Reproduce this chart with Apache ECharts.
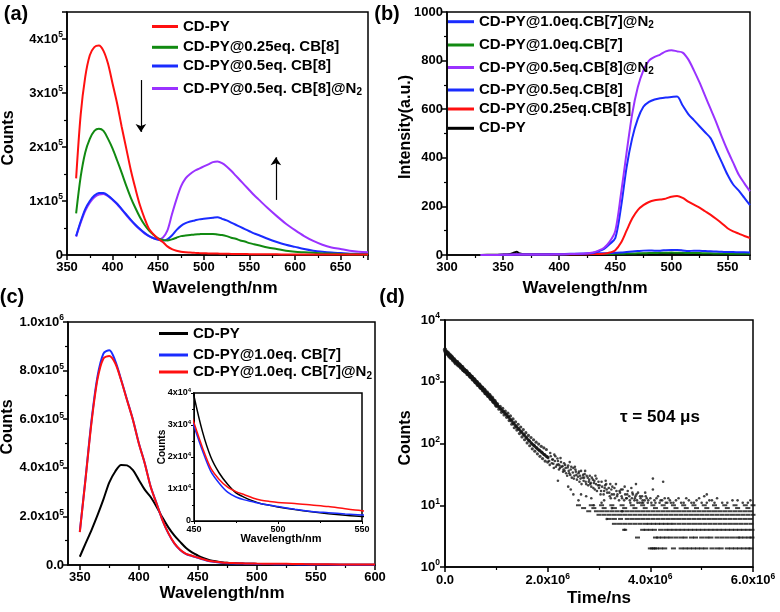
<!DOCTYPE html>
<html><head><meta charset="utf-8">
<script src="https://cdn.jsdelivr.net/npm/echarts@6/dist/echarts.min.js"></script>
<style>html,body{margin:0;padding:0;background:#fff}#c{width:780px;height:612px}</style>
</head><body><div id="c"></div>
<script>
// ---------- Panel (a) ----------
const wlA = [360,365,370,375,380,385,390,395,400,405,410,415,420,425,430,435,440,445,450,455,460,465,470,475,480,485,490,495,500,505,510,515,520,525,530,535,540,545,550,555,560,570,580,590,600,610,620,630,640,650,660,670,680];
const redA = [142e3,260e3,330e3,370e3,385e3,388e3,378e3,354e3,317e3,280e3,237e3,197e3,157e3,123e3,92e3,68e3,48e3,38e3,30e3,24e3,16e3,11e3,8e3,6e3,5e3,4.5e3,4e3,3.6e3,3.3e3,3e3,2.8e3,2.6e3,2.4e3,2.2e3,2e3,1.9e3,1.8e3,1.7e3,1.6e3,1.5e3,1.4e3,1.3e3,1.2e3,1.1e3,1e3,1e3,900,900,800,800,700,700,700];
const greenA = [77e3,145e3,190e3,215e3,230e3,234e3,230e3,215e3,197e3,175e3,152e3,128e3,106e3,87e3,70e3,56e3,45e3,37e3,31e3,28e3,27e3,29e3,32e3,35e3,36e3,37e3,38e3,38.5e3,39e3,39e3,39e3,38e3,37e3,35e3,32e3,30e3,27e3,25e3,22e3,20e3,18e3,14e3,11e3,8e3,6e3,5e3,4e3,3e3,2.5e3,2e3,1.5e3,1.2e3,1e3];
const blueA = [35e3,62e3,85e3,100e3,110e3,115e3,115e3,110e3,103e3,95e3,85e3,75e3,65e3,56e3,48e3,41e3,35e3,31e3,28e3,27e3,29e3,36e3,46e3,54e3,59e3,62e3,64e3,66e3,67e3,68e3,69e3,70e3,67e3,64e3,60e3,56e3,52e3,48e3,44e3,40e3,37e3,30e3,24e3,19e3,15e3,11e3,8e3,6e3,4.5e3,3.5e3,2.5e3,2e3,1.5e3];
const purpleA = [34e3,60e3,82e3,97e3,107e3,112e3,113e3,109e3,102e3,94e3,84e3,74e3,64e3,55e3,47e3,40e3,35e3,31e3,29e3,32e3,45e3,75e3,103e3,127e3,142e3,150e3,156e3,160e3,164e3,168e3,172e3,173e3,170e3,164e3,156e3,147e3,138e3,129e3,120e3,111e3,103e3,87e3,72e3,58e3,46e3,35e3,26e3,19e3,14e3,11e3,8e3,6e3,5e3];

// ---------- Panel (b) ----------
const wlB = [330,340,350,355,360,362,365,370,380,390,400,410,420,430,435,440,445,450,455,460,465,470,475,480,485,490,495,500,505,510,515,520,525,530,535,540,545,550,555,560,565,570];
const blackB = [0,1,2,3,10,13,6,2,2,1,2,3,2,3,2,2,3,3,3,3,4,4,5,5,6,6,7,8,6,7,6,5,5,4,4,4,3,3,3,3,3,3];
const greenB = [0,0,1,1,2,2,2,2,2,2,3,4,4,4,4,4,4,5,5,6,6,7,7,8,8,9,9,10,9,9,8,8,8,7,7,6,6,6,5,5,5,5];
const blueN2B = [0,0,1,1,2,2,2,2,2,3,3,5,5,6,7,7,8,9,10,12,14,16,18,19,18,18,20,21,21,19,16,18,17,16,15,14,13,12,12,11,11,10];
const purpleB = [0,0,1,1,2,2,2,2,2,2,3,4,5,10,18,30,55,100,250,420,580,690,760,800,815,825,838,843,838,833,805,760,710,655,600,545,485,430,380,330,295,262];
const blueB = [0,0,1,1,2,2,2,2,2,2,3,4,5,8,15,25,45,70,195,360,480,560,610,630,640,645,648,650,652,615,580,555,530,505,480,430,380,330,290,265,235,205];
const redB = [0,0,1,1,2,2,2,2,2,2,3,3,3,4,4,5,10,20,50,100,150,185,205,218,225,228,232,240,243,235,220,207,195,180,165,148,130,110,97,88,78,70];

// ---------- Panel (c) + inset ----------
const wlC = [350,355,360,365,370,375,380,385,390,395,400,405,410,415,420,425,430,435,440,445,450,455,460,465,470,475,480,485,490,495,500,510,520,530,540,550,560,580,600];
const blackC = [34e3,90e3,145e3,205e3,270e3,340e3,385e3,412e3,410e3,390e3,350e3,310e3,280e3,240e3,195e3,155e3,122e3,95e3,70e3,52e3,39e3,28e3,20e3,15e3,11.5e3,8.8e3,7.4e3,6.3e3,5.4e3,4.9e3,4.4e3,3.6e3,2.9e3,2.3e3,1.8e3,1.4e3,1.2e3,900,700];
const blueC = [137e3,364e3,598e3,776e3,870e3,884e3,840e3,762e3,680e3,598e3,501e3,419e3,323e3,254e3,185e3,130e3,89e3,62e3,45e3,37e3,29.6e3,22e3,15.5e3,11.8e3,9e3,7.5e3,6.6e3,6e3,5.4e3,4.9e3,4.5e3,3.7e3,3e3,2.6e3,2.2e3,1.9e3,1.6e3,1.2e3,1e3];
const redC = [135e3,360e3,590e3,765e3,850e3,860e3,830e3,760e3,678e3,597e3,500e3,418e3,322e3,253e3,185e3,131e3,90e3,63e3,46e3,38e3,30.6e3,23e3,16.5e3,13e3,10.6e3,9.2e3,8.2e3,7.2e3,6.5e3,6.1e3,5.8e3,5.5e3,5e3,4.5e3,3.8e3,3.2e3,2.8e3,2.2e3,1.8e3];

// ---------- Panel (d) : decay (time in ns, counts) ----------
const decayHead = [[0,3300],[12500,3050],[25000,3000],[37500,2900],[50000,2950],[62500,2780],[75000,2750],[87500,2580],[100000,2650],[112500,2480],[125000,2550],[137500,2420],[150000,2350],[162500,2230],[175000,2300],[187500,2180],[200000,2100],[212500,2000],[225000,2080],[237500,2050],[250000,1950],[262500,1850],[275000,1900],[287500,1850],[300000,1780],[312500,1700],[325000,1730],[337500,1700],[350000,1600],[362500,1550],[375000,1570],[387500,1500],[400000,1460],[412500,1480],[425000,1430],[437500,1350],[450000,1330],[462500,1340],[475000,1300],[487500,1240],[500000,1210],[512500,1200],[525000,1180],[537500,1120],[550000,1090],[562500,1100],[575000,1070],[587500,1010],[600000,980],[612500,990],[625000,960],[637500,900],[650000,890],[662500,900],[675000,870],[687500,820],[700000,800],[712500,810],[725000,790],[737500,740],[750000,720],[762500,740],[775000,710],[787500,660],[800000,650],[812500,670],[825000,640],[837500,600],[850000,590],[862500,610],[875000,575],[887500,540],[900000,525],[912500,550],[925000,515],[937500,490],[950000,470],[962500,490],[975000,460],[987500,440],[1000000,420]];
const decayMid = [[1000000,400],[1025000,440],[1025000,410],[1037500,400],[1050000,360],[1050000,390],[1075000,400],[1075000,370],[1087500,365],[1100000,320],[1100000,350],[1125000,370],[1125000,335],[1137500,330],[1150000,290],[1150000,320],[1175000,335],[1175000,305],[1187500,300],[1200000,265],[1200000,290],[1225000,310],[1225000,275],[1237500,270],[1250000,235],[1250000,260],[1275000,280],[1275000,245],[1287500,240],[1300000,205],[1300000,230],[1325000,250],[1325000,217],[1337500,212],[1350000,180],[1350000,205],[1375000,225],[1375000,195],[1387500,190],[1400000,165],[1400000,185],[1425000,205],[1425000,176],[1437500,172],[1450000,145],[1450000,167],[1475000,185],[1475000,158],[1487500,155],[1500000,128],[1500000,150],[1525000,168],[1525000,142],[1537500,138],[1550000,115],[1550000,135],[1575000,150],[1575000,127],[1587500,125],[1600000,102],[1600000,120],[1625000,135],[1625000,114],[1637500,112],[1650000,92],[1650000,109],[1675000,125],[1675000,103],[1687500,100],[1700000,82],[1700000,98],[1725000,115],[1725000,94],[1737500,93],[1750000,75],[1750000,90],[1775000,105],[1775000,86],[1787500,85],[1800000,68],[1800000,82],[1825000,98],[1825000,79],[1837500,78],[1850000,62],[1850000,76],[1875000,90],[1875000,73],[1887500,72],[1900000,57],[1900000,70],[1925000,85],[1925000,67],[1937500,66],[1950000,52],[1950000,65],[1975000,80],[1975000,62],[1987500,61],[2000000,50],[2000000,60]];
const decayTail = [[2030000,52],[2050000,70],[2080000,48],[2100000,55],[2120000,40],[2130000,66],[2150000,62],[2180000,45],[2200000,52],[2200000,25],[2220000,38],[2230000,44],[2250000,58],[2270000,42],[2300000,35],[2320000,48],[2330000,36],[2350000,40],[2380000,30],[2400000,44],[2400000,20],[2420000,33],[2430000,50],[2450000,38],[2470000,28],[2500000,40],[2500000,15],[2520000,30],[2530000,42],[2550000,35],[2570000,26],[2600000,33],[2600000,12],[2620000,24],[2630000,30],[2650000,36],[2680000,28],[2700000,25],[2720000,32],[2730000,36],[2750000,22],[2750000,14],[2780000,28],[2800000,24],[2820000,30],[2830000,22],[2850000,20],[2880000,26],[2900000,23],[2900000,10],[2920000,18],[2930000,30],[2950000,27],[2980000,21],[3000000,19],[3030000,15],[3050000,24],[3100000,17],[3100000,12],[3120000,21],[3130000,25],[3150000,18],[3200000,16],[3220000,22],[3230000,13],[3250000,15],[3300000,19],[3330000,22],[3350000,14],[3400000,17],[3430000,18],[3450000,13],[3500000,20],[3500000,4],[3530000,13],[3550000,15],[3600000,12],[3630000,19],[3650000,16],[3700000,13],[3720000,22],[3730000,15],[3750000,11],[3800000,14],[3830000,11],[3850000,12],[3900000,16],[3930000,13],[3950000,11],[4000000,13],[4050000,18],[4050000,27],[4100000,11],[4150000,14],[4200000,12],[4250000,24],[4300000,11],[4350000,13],[4400000,11],[4500000,12],[4600000,11],[4700000,13],[4800000,11],[4900000,12],[5050000,14],[5100000,11],[5200000,12],[5400000,11],[5600000,12],[5800000,11],[5950000,12]];
const decayTail2 = [[2010000,58],[2040000,45],[2060000,62],[2090000,55],[2110000,47],[2140000,52],[2160000,42],[2190000,57],[2210000,46],[2240000,40],[2260000,50],[2290000,43],[2310000,38],[2340000,45],[2360000,33],[2390000,41],[2410000,36],[2440000,31],[2460000,42],[2490000,34],[2510000,27],[2540000,38],[2560000,31],[2590000,29],[2610000,35],[2640000,27],[2660000,22],[2690000,31],[2710000,28],[2740000,24],[2760000,30],[2790000,21],[2810000,26],[2840000,23],[2860000,28],[2890000,19],[2910000,25],[2940000,22],[2960000,17],[2990000,24],[3010000,21],[3040000,17],[3060000,20],[3090000,15],[3110000,19],[3140000,22],[3160000,16],[3190000,19],[3210000,14],[3240000,18],[3260000,20],[3290000,15],[3310000,13],[3340000,17],[3360000,15],[3390000,12],[3410000,16],[3440000,14],[3460000,18],[3490000,12],[3510000,15],[3540000,13],[3560000,17],[3590000,14],[3610000,11],[3640000,13],[3660000,15],[3690000,12],[3710000,14],[3740000,12],[3760000,16],[3790000,11],[3810000,13],[3840000,14],[3860000,11],[3890000,12],[3910000,14],[3960000,12],[4020000,11],[4080000,12],[4120000,13],[4180000,11],[4230000,12],[4280000,13],[4330000,11],[4380000,12],[4450000,11],[4550000,13],[4650000,11],[4750000,12],[4850000,11],[4950000,13],[5000000,11],[5150000,12],[5250000,11],[5300000,13],[5500000,11],[5700000,12],[5900000,11],[5100000,15],[2450000,18],[2650000,15],[2850000,13],[3050000,11],[3250000,9],[3450000,8],[3150000,6]];
const decayFloor = [
  [10, [2.6e6,2.85e6,3.05e6,3.25e6,3.45e6,3.65e6,3.85e6,4.05e6,4.25e6,4.45e6,4.65e6,4.85e6,5.05e6,5.25e6,5.45e6,5.65e6,5.85e6,6.0e6]],
  [9,  [2.7e6,2.9e6,3.1e6,3.3e6,3.5e6,3.7e6,3.9e6,4.1e6,4.3e6,4.5e6,4.7e6,4.9e6,5.1e6,5.3e6,5.5e6,5.7e6,5.9e6]],
  [8,  [2.8e6,2.95e6,3.05e6,3.15e6,3.25e6,3.35e6,3.45e6,3.55e6,3.65e6,3.75e6,3.85e6,3.95e6,4.05e6,4.15e6,4.25e6,4.35e6,4.45e6,4.55e6,4.65e6,4.75e6,4.85e6,4.95e6,5.05e6,5.15e6,5.25e6,5.35e6,5.45e6,5.55e6,5.65e6,5.75e6,5.85e6,5.95e6]],
  [7,  [3.0e6,3.1e6,3.2e6,3.3e6,3.4e6,3.5e6,3.6e6,3.7e6,3.8e6,3.9e6,4.0e6,4.1e6,4.2e6,4.3e6,4.4e6,4.5e6,4.6e6,4.7e6,4.8e6,4.9e6,5.0e6,5.1e6,5.2e6,5.3e6,5.4e6,5.5e6,5.6e6,5.7e6,5.8e6,5.9e6,6.0e6]],
  [6,  [3.2e6,3.3e6,3.42e6,3.55e6,3.65e6,3.75e6,3.85e6,3.95e6,4.05e6,4.15e6,4.25e6,4.35e6,4.45e6,4.55e6,4.65e6,4.75e6,4.85e6,4.95e6,5.05e6,5.15e6,5.25e6,5.35e6,5.45e6,5.55e6,5.65e6,5.75e6,5.85e6,5.95e6]],
  [5,  [3.3e6,3.4e6,3.5e6,3.6e6,3.7e6,3.8e6,3.9e6,3.98e6,4.06e6,4.14e6,4.22e6,4.3e6,4.38e6,4.46e6,4.56e6,4.66e6,4.76e6,4.86e6,4.96e6,5.06e6,5.16e6,5.26e6,5.36e6,5.46e6,5.56e6,5.66e6,5.76e6,5.86e6,5.96e6]],
  [4,  [3.5e6,3.85e6,3.92e6,4.0e6,4.08e6,4.2e6,4.3e6,4.38e6,4.46e6,4.54e6,4.62e6,4.7e6,4.78e6,4.86e6,4.94e6,5.02e6,5.1e6,5.18e6,5.26e6,5.34e6,5.42e6,5.5e6,5.58e6,5.66e6,5.74e6,5.82e6,5.9e6,5.98e6]],
  [3,  [3.75e6,4.1e6,4.16e6,4.24e6,4.32e6,4.4e6,4.5e6,4.6e6,4.68e6,4.8e6,4.88e6,5.0e6,5.1e6,5.18e6,5.3e6,5.4e6,5.5e6,5.6e6,5.7e6,5.76e6,5.84e6,5.92e6,5.98e6]],
  [2,  [4.0e6,4.04e6,4.08e6,4.12e6,4.2e6,4.28e6,4.45e6,4.6e6,4.68e6,4.76e6,4.84e6,4.92e6,5.0e6,5.08e6,5.2e6,5.3e6,5.38e6,5.5e6,5.58e6,5.66e6,5.74e6,5.82e6,5.9e6,5.96e6]]
];

// ---------- helpers ----------
const F = '"Liberation Sans", Arial, sans-serif';
const pairs = (xs, ys) => xs.map((x, i) => [x, ys[i]]);
const floorPts = [];
decayFloor.forEach(([c, ts]) => ts.forEach(t => floorPts.push([t, c])));

function rich(bs, ss, lh) {
  return {
    b: {fontSize: bs, fontWeight: 'bold', fontFamily: F, color: '#000', lineHeight: lh},
    s: {fontSize: ss, fontWeight: 'bold', fontFamily: F, color: '#000', verticalAlign: 'top'}
  };
}
const R13 = rich(13, 8.5, 17);
const R9 = rich(9, 6, 12);

function axisBase(extra) {
  return Object.assign({
    axisLine: {show: true, onZero: false, lineStyle: {color: '#000', width: 1.5}},
    axisTick: {show: true, inside: false, length: 5, lineStyle: {color: '#000', width: 1.5}},
    minorTick: {show: true, splitNumber: 2, length: 3, lineStyle: {color: '#000', width: 1.2}},
    splitLine: {show: false},
    minorSplitLine: {show: false}
  }, extra);
}
const plainLbl = (step) => ({
  margin: 4, rich: R13,
  formatter: v => (Math.abs(v % step) < 1e-9 ? '{b|' + v + '}' : '')
});

const COL = {red: '#ff1010', green: '#118a11', blue: '#1a2cff', purple: '#9a32ff', black: '#000'};

function lineSeries(name, xi, xs, ys, color, extra) {
  return Object.assign({
    type: 'line', name: name, xAxisIndex: xi, yAxisIndex: xi,
    data: pairs(xs, ys), showSymbol: false, symbol: 'none', smooth: 0.3,
    color: color, lineStyle: {color: color, width: 2}, animation: false, silent: true
  }, extra || {});
}

function legendFmt(name) {
  let t = name.slice(2);
  if (t.endsWith('@N2')) t = t.slice(0, -1) + '{sub|2}';
  return t;
}
function lg(name, left, cy, w) {
  return {
    show: true, data: [name], left: left, top: cy - 9, padding: 0,
    itemWidth: w, itemHeight: 3, icon: 'rect', selectedMode: false,
    formatter: legendFmt,
    textStyle: {fontSize: 15, fontWeight: 'bold', fontFamily: F, color: '#000', lineHeight: 18,
      rich: {sub: {fontSize: 10, fontWeight: 'bold', fontFamily: F, color: '#000', verticalAlign: 'bottom'}}}
  };
}

function txt(s, x, y, size, opts) {
  return Object.assign({
    type: 'text', x: x, y: y, silent: true,
    style: {text: s, fontSize: size, fontWeight: 'bold', fontFamily: F, fill: '#000',
      align: 'center', verticalAlign: 'middle'}
  }, opts || {});
}

const gridStyle = {show: true, borderColor: '#000', borderWidth: 1.5, containLabel: false};
const dots = (data, size, sym) => ({type: 'scatter', xAxisIndex: 4, yAxisIndex: 4, data: data, symbol: sym || 'circle',
  symbolSize: size, itemStyle: {color: '#141414'}, silent: true, animation: false, large: false});

const option = {
  animation: false,
  backgroundColor: '#fff',
  grid: [
    Object.assign({left: 67, top: 12, width: 301, height: 243}, gridStyle),
    Object.assign({left: 447, top: 12, width: 303, height: 243}, gridStyle),
    Object.assign({left: 68, top: 322, width: 307, height: 243}, gridStyle),
    Object.assign({left: 194, top: 393, width: 168, height: 128, backgroundColor: '#fff'}, gridStyle),
    Object.assign({left: 445, top: 320, width: 308, height: 247}, gridStyle)
  ],
  xAxis: [
    axisBase({gridIndex: 0, type: 'value', min: 350, max: 680, interval: 50, axisLabel: plainLbl(50)}),
    axisBase({gridIndex: 1, type: 'value', min: 300, max: 570, interval: 50, axisLabel: plainLbl(50)}),
    axisBase({gridIndex: 2, type: 'value', min: 340, max: 600, minorTick: {show: false},
      axisTick: {show: true, length: 5, lineStyle: {color: '#000', width: 1.5}, customValues: [350,400,450,500,550,600]},
      axisLabel: {margin: 4, rich: R13, customValues: [350,400,450,500,550,600], formatter: v => '{b|' + v + '}'}}),
    axisBase({gridIndex: 3, type: 'value', min: 450, max: 550, interval: 50,
      axisTick: {show: true, length: 3, lineStyle: {color: '#000', width: 1}},
      minorTick: {show: true, splitNumber: 2, length: 2, lineStyle: {color: '#000', width: 1}},
      axisLine: {show: true, onZero: false, lineStyle: {color: '#000', width: 1}},
      axisLabel: {margin: 3, rich: R9, formatter: v => '{b|' + v + '}'}}),
    axisBase({gridIndex: 4, type: 'value', min: 0, max: 6e6, interval: 2e6,
      axisLabel: {margin: 5, rich: R13, formatter: v => v === 0 ? '{b|0.0}' : '{b|' + (v / 1e6).toFixed(1) + 'x10}{s|6}'}}),
    // minor ticks helper for panel (c)
    {gridIndex: 2, type: 'value', min: 340, max: 600, position: 'bottom',
      axisLine: {show: false}, axisLabel: {show: false}, splitLine: {show: false},
      axisTick: {show: true, length: 3, lineStyle: {color: '#000', width: 1.2}, customValues: [375,425,475,525,575]}}
  ],
  yAxis: [
    axisBase({gridIndex: 0, type: 'value', min: 0, max: 450000, interval: 100000,
      axisLabel: {margin: 4, rich: R13, formatter: v => v === 0 ? '{b|0}' : (v % 1e5 === 0 ? '{b|' + (v / 1e5) + 'x10}{s|5}' : '')}}),
    axisBase({gridIndex: 1, type: 'value', min: 0, max: 1000, interval: 200, axisLabel: plainLbl(200)}),
    axisBase({gridIndex: 2, type: 'value', min: 0, max: 1e6, interval: 2e5,
      axisLabel: {margin: 4, rich: R13, formatter: v => v === 0 ? '{b|0.0}' : (v >= 1e6 ? '{b|1.0x10}{s|6}' : '{b|' + (v / 1e5).toFixed(1) + 'x10}{s|5}')}}),
    axisBase({gridIndex: 3, type: 'value', min: 0, max: 40000, interval: 10000,
      axisTick: {show: true, length: 3, lineStyle: {color: '#000', width: 1}},
      minorTick: {show: true, splitNumber: 2, length: 2, lineStyle: {color: '#000', width: 1}},
      axisLine: {show: true, onZero: false, lineStyle: {color: '#000', width: 1}},
      axisLabel: {margin: 3, rich: R9, formatter: v => v === 0 ? '{b|0}' : '{b|' + (v / 1e4) + 'x10}{s|4}'}}),
    axisBase({gridIndex: 4, type: 'log', logBase: 10, min: 1, max: 10000, minorTick: {show: false},
      axisLabel: {margin: 5, rich: R13, formatter: v => '{b|10}{s|' + Math.round(Math.log10(v)) + '}'}})
  ],
  legend: [
    lg('a:CD-PY', 152, 26.5, 26),
    lg('a:CD-PY@0.25eq. CB[8]', 152, 47.3, 26),
    lg('a:CD-PY@0.5eq. CB[8]', 152, 66, 26),
    lg('a:CD-PY@0.5eq. CB[8]@N2', 152, 88.5, 26),
    lg('b:CD-PY@1.0eq.CB[7]@N2', 448, 21.7, 26),
    lg('b:CD-PY@1.0eq.CB[7]', 448, 45, 26),
    lg('b:CD-PY@0.5eq.CB[8]@N2', 448, 67.5, 26),
    lg('b:CD-PY@0.5eq.CB[8]', 448, 90, 26),
    lg('b:CD-PY@0.25eq.CB[8]', 448, 109, 26),
    lg('b:CD-PY', 448, 128.3, 26),
    lg('c:CD-PY', 159, 333.5, 29),
    lg('c:CD-PY@1.0eq. CB[7]', 159, 355, 29),
    lg('c:CD-PY@1.0eq. CB[7]@N2', 159, 372, 29)
  ],
  series: [
    // (a)
    lineSeries('a:CD-PY@0.5eq. CB[8]@N2', 0, wlA, purpleA, COL.purple),
    lineSeries('a:CD-PY@0.5eq. CB[8]', 0, wlA, blueA, COL.blue),
    lineSeries('a:CD-PY@0.25eq. CB[8]', 0, wlA, greenA, COL.green),
    lineSeries('a:CD-PY', 0, wlA, redA, COL.red, {
      markLine: {silent: true, animation: false, symbol: ['none', 'arrow'], symbolSize: 8,
        lineStyle: {color: '#000', width: 1.2, type: 'solid'}, label: {show: false},
        data: [[{coord: [431, 324000]}, {coord: [431, 228000]}], [{coord: [579, 102000]}, {coord: [579, 181000]}]]}
    }),
    // (b)
    lineSeries('b:CD-PY', 1, wlB, blackB, COL.black),
    lineSeries('b:CD-PY@1.0eq.CB[7]', 1, wlB, greenB, COL.green),
    lineSeries('b:CD-PY@1.0eq.CB[7]@N2', 1, wlB, blueN2B, COL.blue),
    lineSeries('b:CD-PY@0.25eq.CB[8]', 1, wlB, redB, COL.red),
    lineSeries('b:CD-PY@0.5eq.CB[8]', 1, wlB, blueB, COL.blue),
    lineSeries('b:CD-PY@0.5eq.CB[8]@N2', 1, wlB, purpleB, COL.purple),
    // (c)
    lineSeries('c:CD-PY', 2, wlC, blackC, COL.black),
    lineSeries('c:CD-PY@1.0eq. CB[7]', 2, wlC, blueC, COL.blue),
    lineSeries('c:CD-PY@1.0eq. CB[7]@N2', 2, wlC, redC, COL.red),
    // inset
    lineSeries('i:black', 3, wlC, blackC, COL.black, {lineStyle: {color: COL.black, width: 1.5}}),
    lineSeries('i:blue', 3, wlC, blueC, COL.blue, {lineStyle: {color: COL.blue, width: 1.5}}),
    lineSeries('i:red', 3, wlC, redC, COL.red, {lineStyle: {color: COL.red, width: 1.5}}),
    // (d)
    dots(decayHead, 4.5),
    dots(decayMid, 3.2),
    dots(decayTail, 2.6),
    dots(decayTail2, 2.6),
    dots(floorPts, [5, 2], 'rect')
  ],
  graphic: [
    txt('(a)', 16, 14, 20),
    txt('(b)', 387, 14, 20),
    txt('(c)', 12, 297, 20),
    txt('(d)', 392, 297, 20),
    txt('Wavelength/nm', 215, 288, 17),
    txt('Wavelength/nm', 585, 288, 17),
    txt('Wavelength/nm', 222, 593, 17),
    txt('Time/ns', 599, 598, 17),
    txt('Counts', 9, 138, 16, {rotation: Math.PI / 2}),
    txt('Intensity(a.u.)', 406, 127, 16, {rotation: Math.PI / 2}),
    txt('Counts', 8, 427, 16, {rotation: Math.PI / 2}),
    txt('Counts', 406, 438, 16, {rotation: Math.PI / 2}),
    txt('Counts', 162, 447, 10, {rotation: Math.PI / 2}),
    txt('Wavelength/nm', 281, 539, 11),
    txt('τ = 504 μs', 660, 417, 17)
  ]
};
const chart = echarts.init(document.getElementById('c'), null, {renderer: 'canvas'});
chart.setOption(option);
</script></body></html>
